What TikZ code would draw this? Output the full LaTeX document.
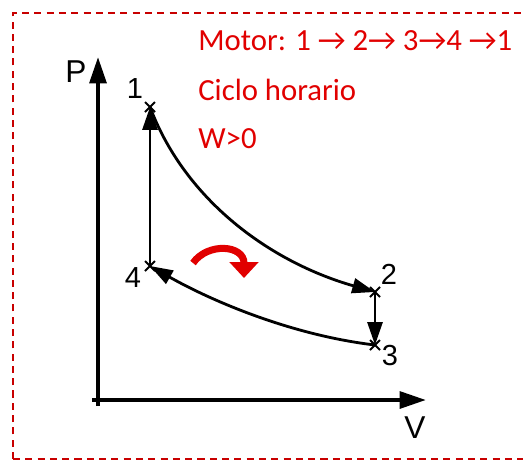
\documentclass[tikz,border=0pt]{standalone}
\usepackage{fontspec}
\setmainfont{Liberation Sans}
\newfontfamily\calibri{Carlito}
\usetikzlibrary{arrows.meta, calc}

\definecolor{rojo}{RGB}{225,0,0}
\definecolor{marco}{RGB}{200,0,0}

\tikzset{
    eje/.style={line width=2.3pt, -{Triangle[width=9.5pt,length=15pt]}},
    tramo/.style={line width=1.6pt, -{Triangle[width=8.5pt,length=13pt]}},
    cruz/.style={line width=1.1pt},
    etiq/.style={font=\fontsize{16.5}{18}\selectfont},
    nota/.style={text=rojo, anchor=base west, inner sep=0pt, font=\calibri\fontsize{17.5}{20}\selectfont}
}

\begin{document}
\begin{tikzpicture}[x=0.02cm, y=-0.02cm]
    % --- 1. marco ---
    \useasboundingbox (0,0) rectangle (523,460);
    \draw[marco, line width=1.2pt, dash pattern=on 4pt off 3pt] (13,459) -- (13,13) -- (540,13);
    \draw[marco, line width=1.2pt, dash pattern=on 4pt off 3pt] (13,459) -- (540,459);

    % --- 2. ejes P y V ---
    \coordinate (O) at (98,400);
    \coordinate (Ptop) at (98,57);
    \coordinate (Vend) at (426,400);
    \coordinate (Obot) at (98,406);
    \coordinate (Oleft) at (92,400);
    \draw[eje] (Obot) -- (Ptop);
    \draw[eje] (Oleft) -- (Vend);
    \node[font=\fontsize{18}{20}\selectfont] (P) at (76,72) {P};
    \node[font=\fontsize{18}{20}\selectfont] (V) at (415,428) {V};

    % --- 3. estados 1, 2, 3, 4 ---
    \coordinate (s1) at (150,107);
    \coordinate (s2) at (375,292);
    \coordinate (s3) at (375,345);
    \coordinate (s4) at (150,266);
    \foreach \s in {s1,s2,s3,s4}
        \draw[cruz] ($(\s)+(-5,-5)$) -- ($(\s)+(5,5)$) ($(\s)+(-5,5)$) -- ($(\s)+(5,-5)$);
    \node[etiq] (l1) at (135,89) {1};
    \node[etiq] (l2) at (389,274) {2};
    \node[etiq] (l3) at (390,356) {3};
    \node[etiq] (l4) at (133,278) {4};

    % --- 4. ciclo ---
    \draw[tramo] (s1) .. controls (185,200) and (270,262) .. (s2);
    \draw[tramo] (s2) -- (s3);
    \draw[tramo] (s3) .. controls (290,335) and (210,300) .. (s4);
    \draw[tramo] (s4) -- (s1);

    % --- 5. flecha roja (sentido horario) ---
    \coordinate (f0) at (193,263);
    \coordinate (f1) at (244,278);
    \draw[rojo, line width=4pt, -{Triangle[width=16pt,length=9pt]}]
        (f0) .. controls (208,242) and (244,245) .. (f1);

    % --- 6. textos ---
    \node[nota] (motor) at (198,50) {Motor: 1 → 2→ 3→4 →1};
    \node[nota] (horario) at (198,100) {Ciclo horario};
    \node[nota] (trabajo) at (198,148) {W>0};
\end{tikzpicture}
\end{document}
